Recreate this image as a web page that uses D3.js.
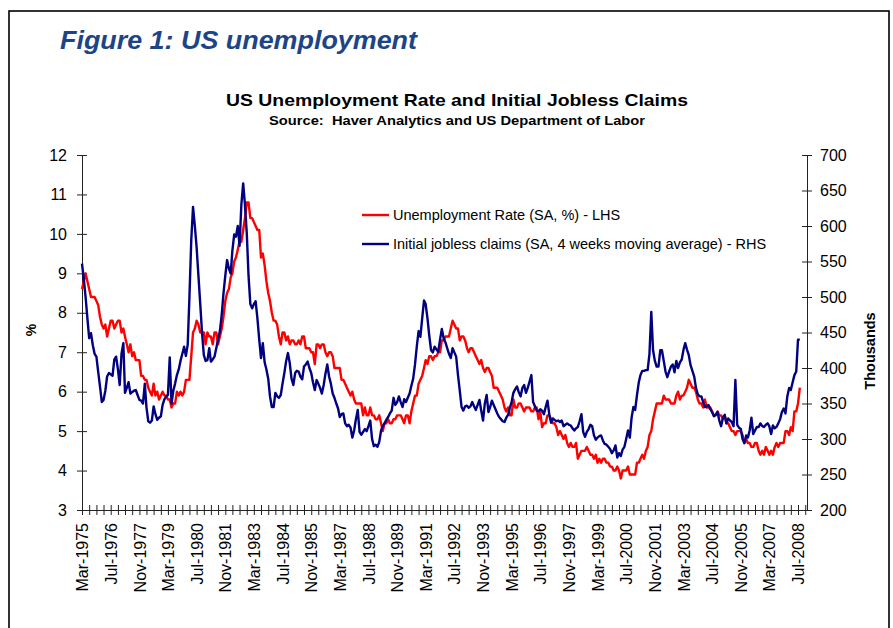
<!DOCTYPE html>
<html>
<head>
<meta charset="utf-8">
<script src="https://cdn.jsdelivr.net/npm/d3@7"></script>
<style>
  body { margin: 0; background: #fff; }
  svg { font-family: "Liberation Sans", Arial, sans-serif; }
</style>
</head>
<body>
<svg width="893" height="628"></svg>
<script>
// monthly, starting Mar-1975
var startMonth = Date.UTC(1975, 2, 1);

// unemployment rate (SA, %) - LHS
var unemployment = [
  8.6, 8.8, 9.0, 8.8, 8.6, 8.4, 8.4, 8.4, 8.3, 8.2,
  7.9, 7.7, 7.6, 7.7, 7.4, 7.6, 7.8, 7.8, 7.6, 7.7, 7.8, 7.8,
  7.5, 7.6, 7.4, 7.2, 7.0, 7.2, 6.9, 7.0, 6.8, 6.8, 6.8, 6.4,
  6.4, 6.3, 6.3, 6.1, 6.0, 5.9, 6.2, 5.9, 6.0, 5.8, 5.9, 6.0,
  5.9, 5.9, 5.8, 5.8, 5.6, 5.7, 5.7, 6.0, 5.9, 6.0, 5.9, 6.0,
  6.3, 6.3, 6.3, 6.9, 7.5, 7.6, 7.8, 7.7, 7.5, 7.5, 7.5, 7.2,
  7.5, 7.4, 7.4, 7.2, 7.5, 7.5, 7.2, 7.4, 7.6, 7.9, 8.3, 8.5,
  8.6, 8.9, 9.0, 9.3, 9.4, 9.6, 9.8, 9.8, 10.1, 10.4, 10.8, 10.8,
  10.4, 10.4, 10.3, 10.2, 10.1, 10.1, 9.4, 9.5, 9.2, 8.8, 8.5, 8.3,
  8.0, 7.8, 7.8, 7.7, 7.4, 7.2, 7.5, 7.5, 7.3, 7.4, 7.2, 7.3,
  7.3, 7.2, 7.2, 7.3, 7.2, 7.4, 7.4, 7.1, 7.1, 7.1, 7.0, 7.0,
  6.7, 7.2, 7.2, 7.1, 7.2, 7.2, 7.0, 6.9, 7.0, 7.0, 6.9, 6.6,
  6.6, 6.6, 6.6, 6.3, 6.3, 6.2, 6.1, 6.0, 5.9, 6.0, 5.8, 5.7,
  5.7, 5.7, 5.7, 5.4, 5.6, 5.4, 5.4, 5.6, 5.4, 5.4, 5.3, 5.3,
  5.4, 5.2, 5.0, 5.2, 5.2, 5.3, 5.2, 5.2, 5.3, 5.3, 5.4, 5.4,
  5.4, 5.3, 5.2, 5.4, 5.4, 5.2, 5.5, 5.7, 5.9, 5.9, 6.2, 6.3,
  6.4, 6.6, 6.8, 6.7, 6.9, 6.9, 6.8, 6.9, 6.9, 7.0, 7.0, 7.3,
  7.3, 7.4, 7.4, 7.4, 7.6, 7.8, 7.7, 7.6, 7.6, 7.3, 7.4, 7.4,
  7.3, 7.1, 7.0, 7.1, 7.1, 7.0, 6.9, 6.8, 6.7, 6.8, 6.6, 6.5,
  6.6, 6.6, 6.5, 6.4, 6.1, 6.1, 6.1, 6.0, 5.9, 5.8, 5.6, 5.5,
  5.6, 5.4, 5.4, 5.8, 5.6, 5.6, 5.7, 5.7, 5.6, 5.5, 5.6, 5.6,
  5.6, 5.5, 5.5, 5.6, 5.6, 5.3, 5.5, 5.1, 5.2, 5.2, 5.4, 5.4,
  5.3, 5.2, 5.2, 5.1, 4.9, 5.0, 4.9, 4.8, 4.9, 4.7, 4.6, 4.7,
  4.6, 4.6, 4.7, 4.3, 4.4, 4.5, 4.5, 4.5, 4.6, 4.5, 4.4, 4.4,
  4.3, 4.4, 4.2, 4.3, 4.2, 4.3, 4.3, 4.2, 4.2, 4.1, 4.1, 4.0,
  4.0, 4.1, 4.0, 3.8, 4.0, 4.0, 4.0, 4.1, 3.9, 3.9, 3.9, 3.9,
  4.2, 4.2, 4.3, 4.4, 4.3, 4.5, 4.6, 4.9, 5.0, 5.3, 5.5, 5.7,
  5.7, 5.7, 5.7, 5.9, 5.8, 5.8, 5.8, 5.7, 5.7, 5.7, 5.9, 6.0,
  5.8, 5.9, 5.9, 6.0, 6.1, 6.3, 6.2, 6.1, 6.1, 6.0, 5.8, 5.7,
  5.7, 5.6, 5.8, 5.6, 5.6, 5.6, 5.5, 5.4, 5.4, 5.5, 5.4, 5.4,
  5.3, 5.4, 5.2, 5.2, 5.1, 5.0, 5.0, 4.9, 5.0, 5.0, 5.0, 4.9,
  4.7, 4.8, 4.7, 4.7, 4.6, 4.6, 4.7, 4.7, 4.5, 4.4, 4.5, 4.4,
  4.6, 4.5, 4.4, 4.5, 4.4, 4.6, 4.7, 4.6, 4.7, 4.7, 4.7, 5.0,
  5.0, 4.9, 5.1, 5.0, 5.5, 5.5, 5.7, 6.1
];

// initial jobless claims (SA, 4 weeks moving average, thousands) - RHS
var claims = [
  547, 525, 500, 470, 442, 449, 432, 420, 416, 395, 374, 352,
  355, 368, 388, 393, 391, 389, 412, 416, 398, 376, 420, 435,
  365, 372, 380, 364, 366, 368, 369, 362, 355, 354, 350, 378,
  345, 325, 323, 326, 346, 335, 327, 330, 332, 348, 356, 360,
  362, 415, 350, 368, 378, 390, 398, 410, 420, 430, 417, 433,
  500, 580, 627, 600, 570, 530, 490, 450, 418, 410, 411, 428,
  409, 412, 416, 428, 440, 452, 475, 505, 530, 552, 540, 533,
  565, 588, 585, 600, 572, 630, 660, 630, 590, 530, 490, 484,
  490, 494, 470, 440, 414, 435, 408, 398, 385, 360, 345, 345,
  365, 360, 358, 362, 378, 393, 410, 421, 407, 385, 376, 393,
  396, 395, 388, 384, 402, 405, 409, 400, 393, 380, 369, 383,
  378, 372, 364, 376, 392, 405, 388, 378, 364, 358, 350, 343,
  331, 335, 336, 322, 318, 320, 316, 302, 312, 328, 341, 310,
  306, 310, 314, 311, 318, 326, 300, 290, 292, 289, 296, 312,
  318, 322, 327, 331, 336, 340, 358, 348, 352, 360, 352, 345,
  356, 352, 358, 364, 375, 385, 405, 430, 452, 444, 470, 495,
  490, 470, 446, 425, 422, 430, 426, 423, 440, 455, 442, 436,
  428, 420, 414, 428, 422, 416, 390, 368, 345, 340, 346, 347,
  344, 346, 352, 346, 341, 348, 355, 340, 326, 350, 362, 338,
  345, 354, 348, 342, 336, 331, 328, 325, 324, 330, 334, 344,
  352, 365, 370, 374, 366, 360, 372, 376, 365, 372, 381, 390,
  352, 346, 340, 339, 342, 340, 335, 345, 354, 335, 323, 329,
  327, 325, 326, 324, 326, 318, 320, 322, 320, 319, 315, 312,
  315, 317, 325, 335, 310, 303, 310, 314, 320, 318, 305, 299,
  302, 304, 305, 298, 293, 292, 289, 286, 280, 284, 291, 274,
  280, 276, 285, 289, 300, 312, 302, 330, 345, 341, 362, 380,
  390, 396, 396, 397, 397, 420, 479, 425, 410, 402, 402, 425,
  425, 410, 395, 387, 395, 402, 405, 394, 410, 400, 408, 412,
  425, 435, 426, 418, 404, 396, 388, 372, 363, 360, 360, 352,
  345, 346, 348, 342, 338, 332, 334, 338, 326, 318, 330, 334,
  322, 329, 326, 324, 318, 383, 320, 316, 314, 300, 294, 305,
  302, 312, 330, 307, 312, 317, 317, 322, 318, 317, 320, 322,
  318, 307, 319, 315, 317, 322, 328, 338, 343, 336, 360, 372,
  369, 380, 390, 395, 440, 440
];

var leftTicks = [3, 4, 5, 6, 7, 8, 9, 10, 11, 12];
var rightTicks = [200, 250, 300, 350, 400, 450, 500, 550, 600, 650, 700];
var seriesNames = [
  "Unemployment Rate (SA, %) - LHS",
  "Initial jobless claims (SA, 4 weeks moving average) - RHS"
];
var seriesColors = ["#ff0000", "#000080"];

var svg = d3.select("svg"),
  margin = { top: 155, right: 86, bottom: 118, left: 82 },
  width = +svg.attr("width") - margin.left - margin.right,
  height = +svg.attr("height") - margin.top - margin.bottom;

// outer frame
svg.append("rect")
  .attr("x", 9).attr("y", 11)
  .attr("width", 880).attr("height", 660)
  .attr("fill", "none").attr("stroke", "#000").attr("stroke-width", 1.6);

// the titles in the source are a little stretched sideways
svg.append("text")
  .attr("x", 60).attr("y", 49)
  .attr("fill", "#1c4587")
  .attr("font-size", 25.5).attr("font-weight", "bold").attr("font-style", "italic")
  .attr("textLength", 357).attr("lengthAdjust", "spacingAndGlyphs")
  .text("Figure 1: US unemployment");

svg.append("text")
  .attr("x", 457).attr("y", 106)
  .attr("text-anchor", "middle")
  .attr("font-size", 17).attr("font-weight", "bold")
  .attr("textLength", 462).attr("lengthAdjust", "spacingAndGlyphs")
  .text("US Unemployment Rate and Initial Jobless Claims");

svg.append("text")
  .attr("x", 457).attr("y", 125)
  .attr("text-anchor", "middle")
  .attr("font-size", 12.5).attr("font-weight", "bold")
  .attr("textLength", 376).attr("lengthAdjust", "spacingAndGlyphs")
  .style("white-space", "pre")
  .text("Source:  Haver Analytics and US Department of Labor");

var g = svg.append("g").attr("transform", "translate(" + margin.left + "," + margin.top + ")");

var parseMonth = function(i) { return d3.utcMonth.offset(new Date(startMonth), i); };

var x = d3.scaleUtc()
  .domain([new Date(startMonth), new Date(Date.UTC(2008, 11, 1))])
  .range([0, width]);

var yL = d3.scaleLinear().domain([3, 12]).range([height, 0]);
var yR = d3.scaleLinear().domain([200, 700]).range([height, 0]);

// ticks every 4 months, labels every 16 months
var xTicks = d3.utcMonth.range(new Date(startMonth), new Date(Date.UTC(2009, 0, 1)), 4);
var fmt = d3.utcFormat("%b-%Y");

var xAxis = g.append("g")
  .attr("transform", "translate(0," + height + ")")
  .call(d3.axisBottom(x).tickValues(xTicks).tickSizeOuter(0)
    .tickFormat(function(d, i) { return i % 4 === 0 ? fmt(d) : ""; }));
xAxis.selectAll(".tick line").attr("y1", -5).attr("y2", 5);
xAxis.selectAll(".tick text")
  .attr("transform", "rotate(-90)")
  .attr("text-anchor", "end")
  .attr("x", -13).attr("y", 0).attr("dy", "0.35em")
  .attr("font-size", 16);

var leftAxis = g.append("g")
  .call(d3.axisLeft(yL).tickValues(leftTicks).tickSize(5).tickSizeOuter(0).tickPadding(10));
leftAxis.selectAll(".tick line").attr("x1", 5);
leftAxis.selectAll(".tick text").attr("font-size", 16);

var rightAxis = g.append("g")
  .attr("transform", "translate(" + width + ",0)")
  .call(d3.axisRight(yR).tickValues(rightTicks).tickSize(5).tickSizeOuter(0).tickPadding(8));
rightAxis.selectAll(".tick line").attr("x1", -5);
rightAxis.selectAll(".tick text").attr("font-size", 16);

g.selectAll(".domain, .tick line").attr("stroke", "#222");
g.selectAll(".tick text").attr("fill", "#000").attr("font-family", "'Liberation Sans', Arial, sans-serif");

svg.append("text")
  .attr("transform", "translate(36,330) rotate(-90)")
  .attr("text-anchor", "middle")
  .attr("font-size", 14).attr("font-weight", "bold")
  .text("%");

svg.append("text")
  .attr("transform", "translate(875,351) rotate(-90)")
  .attr("text-anchor", "middle")
  .attr("font-size", 14.5).attr("font-weight", "bold")
  .text("Thousands");

var lineL = d3.line()
  .x(function(d, i) { return x(parseMonth(i)); })
  .y(function(d) { return yL(d); });

var lineR = d3.line()
  .x(function(d, i) { return x(parseMonth(i)); })
  .y(function(d) { return yR(d); });

g.append("path")
  .datum(unemployment)
  .attr("fill", "none")
  .attr("stroke", seriesColors[0])
  .attr("stroke-width", 2.4)
  .attr("stroke-linejoin", "round")
  .attr("d", lineL);

g.append("path")
  .datum(claims)
  .attr("fill", "none")
  .attr("stroke", seriesColors[1])
  .attr("stroke-width", 2.4)
  .attr("stroke-linejoin", "round")
  .attr("d", lineR);

// legend
var legend = svg.append("g")
  .selectAll("g")
  .data(seriesNames)
  .enter().append("g")
  .attr("transform", function(d, i) { return "translate(362," + (215 + i * 29) + ")"; });

legend.append("line")
  .attr("x1", 0).attr("x2", 27)
  .attr("stroke", function(d, i) { return seriesColors[i]; })
  .attr("stroke-width", 2.4);

legend.append("text")
  .attr("x", 31).attr("dy", "0.35em")
  .attr("font-size", 14.5)
  .text(function(d) { return d; });
</script>
</body>
</html>
